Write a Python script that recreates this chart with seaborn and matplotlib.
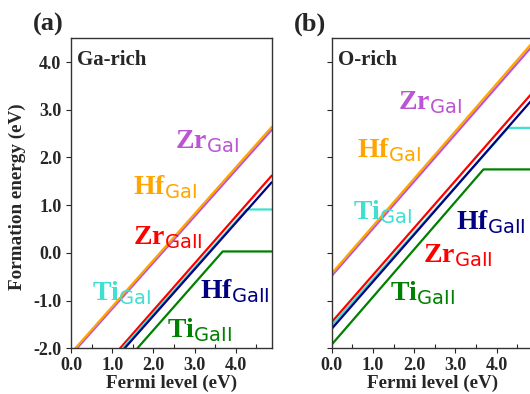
import pandas as pd
import seaborn as sns
import matplotlib.pyplot as plt
from matplotlib.ticker import MultipleLocator, FormatStrFormatter

# ==============================
# DATA
# ==============================
defects = ["Zr_GaI", "Hf_GaI", "Zr_GaII", "Ti_GaI", "Hf_GaII", "Ti_GaII"]

# Ga-rich: (Fermi level, formation energy) vertices per defect
ga_ef = {
    "Zr_GaI": [0.0, 4.87],
    "Hf_GaI": [0.0, 4.87],
    "Zr_GaII": [1.19, 4.87],
    "Ti_GaI": [1.25, 4.26, 4.87],
    "Hf_GaII": [1.30, 4.87],
    "Ti_GaII": [1.61, 3.68, 4.87],
}
ga_e = {
    "Zr_GaI": [-2.14, 2.58],
    "Hf_GaI": [-2.10, 2.64],
    "Zr_GaII": [-2.0, 1.62],
    "Ti_GaI": [-2.0, 0.91, 0.91],
    "Hf_GaII": [-2.0, 1.48],
    "Ti_GaII": [-2.0, 0.03, 0.03],
}

# O-rich
o_ef = {
    "Zr_GaI": [0.0, 4.87],
    "Hf_GaI": [0.0, 4.87],
    "Zr_GaII": [0.0, 4.87],
    "Ti_GaI": [0.0, 4.28, 4.87],
    "Hf_GaII": [0.0, 4.87],
    "Ti_GaII": [0.0, 3.68, 4.87],
}
o_e = {
    "Zr_GaI": [-0.48, 4.34],
    "Hf_GaI": [-0.43, 4.41],
    "Zr_GaII": [-1.45, 3.36],
    "Ti_GaI": [-1.52, 2.62, 2.62],
    "Hf_GaII": [-1.59, 3.22],
    "Ti_GaII": [-1.92, 1.75, 1.75],
}

colors = {
    "Zr_GaI": "mediumorchid",
    "Hf_GaI": "orange",
    "Zr_GaII": "red",
    "Ti_GaI": "turquoise",
    "Hf_GaII": "navy",
    "Ti_GaII": "green",
}
labels = {
    "Zr_GaI": r"$\mathbf{Zr}_{\mathrm{GaI}}$",
    "Hf_GaI": r"$\mathbf{Hf}_{\mathrm{GaI}}$",
    "Zr_GaII": r"$\mathbf{Zr}_{\mathrm{GaII}}$",
    "Ti_GaI": r"$\mathbf{Ti}_{\mathrm{GaI}}$",
    "Hf_GaII": r"$\mathbf{Hf}_{\mathrm{GaII}}$",
    "Ti_GaII": r"$\mathbf{Ti}_{\mathrm{GaII}}$",
}

# label anchor (left, baseline) in data coords
ga_lab = {
    "Zr_GaI": (2.52, 2.19),
    "Hf_GaI": (1.50, 1.24),
    "Zr_GaII": (1.50, 0.19),
    "Ti_GaI": (0.50, -0.99),
    "Hf_GaII": (3.13, -0.96),
    "Ti_GaII": (2.32, -1.77),
}
o_lab = {
    "Zr_GaI": (1.61, 3.02),
    "Hf_GaI": (0.62, 2.00),
    "Ti_GaI": (0.51, 0.71),
    "Hf_GaII": (3.01, 0.50),
    "Zr_GaII": (2.22, -0.20),
    "Ti_GaII": (1.41, -0.99),
}


def to_frame(ef, e):
    rows = []
    for d in defects:
        for i, (x, y) in enumerate(zip(ef[d], e[d])):
            rows.append({"defect": d, "idx": i, "EF": x, "E": y})
    return pd.DataFrame(rows)


# ==============================
# STYLE
# ==============================
sns.set_style("ticks")
plt.rcParams["font.family"] = ["Liberation Serif", "DejaVu Serif"]
plt.rcParams["axes.unicode_minus"] = False
plt.rcParams["mathtext.fontset"] = "custom"
plt.rcParams["mathtext.bf"] = "Liberation Serif:bold"
plt.rcParams["mathtext.rm"] = "DejaVu Sans:normal"

fig = plt.figure(figsize=(5.3, 3.94), dpi=100)
ax_a = fig.add_axes([0.134, 0.116, 0.3787, 0.787])
ax_b = fig.add_axes([0.626, 0.116, 0.3787, 0.787])

panels = [
    (ax_a, ga_ef, ga_e, ga_lab, "Ga-rich", "(a)"),
    (ax_b, o_ef, o_e, o_lab, "O-rich", "(b)"),
]

for ax, ef, e, lab, cond, letter in panels:
    df = to_frame(ef, e)
    sns.lineplot(data=df, x="EF", y="E", hue="defect", units="defect",
                 estimator=None, sort=False, palette=colors, lw=1.6,
                 legend=False, ax=ax)
    for d, (x, y) in lab.items():
        ax.text(x, y, labels[d], color=colors[d], fontsize=20,
                ha="left", va="baseline")
    ax.set_xlim(0, 4.87)
    ax.set_ylim(-2.0, 4.5)
    ax.xaxis.set_major_locator(MultipleLocator(1.0))
    ax.xaxis.set_minor_locator(MultipleLocator(0.5))
    ax.yaxis.set_major_locator(MultipleLocator(1.0))
    ax.xaxis.set_major_formatter(FormatStrFormatter("%.1f"))
    ax.yaxis.set_major_formatter(FormatStrFormatter("%.1f"))
    ax.tick_params(axis="y", which="major", direction="out", length=3.5,
                   width=0.8, labelsize=13, pad=3.5)
    ax.tick_params(axis="x", which="major", direction="out", length=3.5,
                   width=0.8, labelsize=13, pad=2.5)
    ax.tick_params(axis="x", which="minor", direction="in", length=3,
                   width=0.8)
    for lbl in ax.get_xticklabels() + ax.get_yticklabels():
        lbl.set_fontweight("bold")
    for sp in ax.spines.values():
        sp.set_color("#333333")
        sp.set_linewidth(1.0)
    ax.set_xlabel("Fermi level (eV)", fontsize=13.8, fontweight="bold",
                  labelpad=0.5)
    ax.set_ylabel("")
    ax.text(0.03, 0.915, cond, transform=ax.transAxes, fontsize=15,
            fontweight="bold", ha="left", va="baseline")
    ax.text(-0.19, 1.025, letter, transform=ax.transAxes, fontsize=19,
            fontweight="bold", ha="left", va="baseline")

ax_a.set_ylabel("Formation energy (eV)", fontsize=13.8, fontweight="bold")
ax_a.yaxis.set_label_coords(-0.224, 0.49)
ax_b.set_yticklabels([])

fig.savefig("out.png", dpi=100)
